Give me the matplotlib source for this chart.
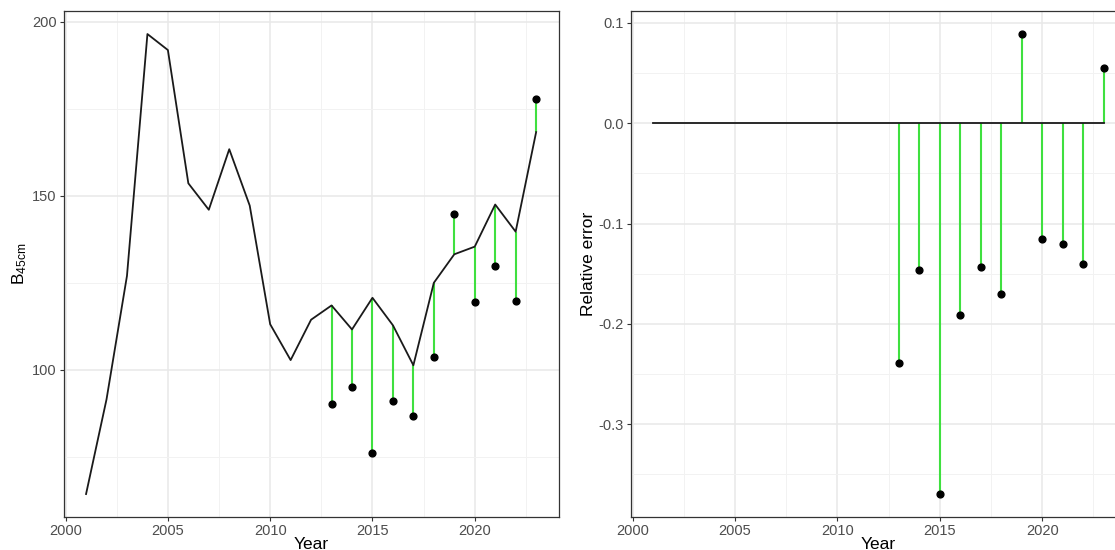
import numpy as np
import matplotlib
matplotlib.use("Agg")
import matplotlib.pyplot as plt
from matplotlib.ticker import MultipleLocator

plt.rcParams['font.family'] = ['Liberation Sans', 'DejaVu Sans']
plt.rcParams['mathtext.default'] = 'regular'

# model estimate (line)
years = np.arange(2001, 2024)
biomass = [64.3, 91.5, 127.0, 196.5, 191.9, 153.6, 146.0, 163.4, 147.2, 113.1,
           102.8, 114.4, 118.5, 111.6, 120.7, 112.8, 101.3, 125.0, 133.2, 135.4,
           147.5, 139.7, 168.3]

# retrospective points
pt_years = np.arange(2013, 2024)
pt_values = [90.1, 95.1, 76.1, 91.1, 86.7, 103.6, 144.9, 119.5, 129.8, 119.8, 177.7]

# relative error
rel_err = [-0.239, -0.146, -0.3695, -0.1915, -0.1435, -0.1705, 0.0892,
           -0.1158, -0.1208, -0.140, 0.0554]

green = '#3fe03f'
grid_major = '#e8e8e8'
grid_minor = '#f2f2f2'


def style_axes(ax):
    for s in ax.spines.values():
        s.set_color('#333333')
        s.set_linewidth(0.9)
    ax.xaxis.set_major_locator(MultipleLocator(5))
    ax.xaxis.set_minor_locator(MultipleLocator(2.5))
    ax.grid(which='major', color=grid_major, linewidth=1.1, zorder=0)
    ax.grid(which='minor', color=grid_minor, linewidth=0.7, zorder=0)
    ax.set_axisbelow(True)
    ax.tick_params(which='major', length=3, width=0.8, color='#333333',
                   labelsize=10.5, labelcolor='#4d4d4d', pad=2)
    ax.tick_params(which='minor', length=0)
    ax.set_xlim(1999.9, 2024.1)
    ax.set_xlabel('Year', fontsize=12.5, labelpad=-1)


fig = plt.figure(figsize=(11.15, 5.5), dpi=100)
ax1 = fig.add_axes([0.057, 0.06, 0.444, 0.9205])
ax2 = fig.add_axes([0.5655, 0.06, 0.4445, 0.9205])

# left panel
style_axes(ax1)
ax1.yaxis.set_major_locator(MultipleLocator(50))
ax1.yaxis.set_minor_locator(MultipleLocator(25))
line_at_pts = [biomass[list(years).index(y)] for y in pt_years]
ax1.vlines(pt_years, line_at_pts, pt_values, color=green, linewidth=1.5, zorder=2)
ax1.plot(years, biomass, color='#1a1a1a', linewidth=1.3, zorder=3)
ax1.scatter(pt_years, pt_values, s=24, color='black', zorder=4)
ax1.set_ylim(57.7, 203.2)
ax1.set_ylabel(r'B$_{\mathregular{45cm}}$', fontsize=12.5, labelpad=2)

# right panel
style_axes(ax2)
ax2.yaxis.set_major_locator(MultipleLocator(0.1))
ax2.yaxis.set_minor_locator(MultipleLocator(0.05))
ax2.yaxis.set_major_formatter(plt.FuncFormatter(lambda v, p: f'{v:.1f}'))
ax2.vlines(pt_years, 0, rel_err, color=green, linewidth=1.5, zorder=2)
ax2.plot(years, np.zeros(len(years)), color='#1a1a1a', linewidth=1.3, zorder=3)
ax2.scatter(pt_years, rel_err, s=24, color='black', zorder=4)
ax2.set_ylim(-0.3924, 0.1121)
ax2.set_ylabel('Relative error', fontsize=12.5, labelpad=2)

fig.savefig('out.png', dpi=100)
